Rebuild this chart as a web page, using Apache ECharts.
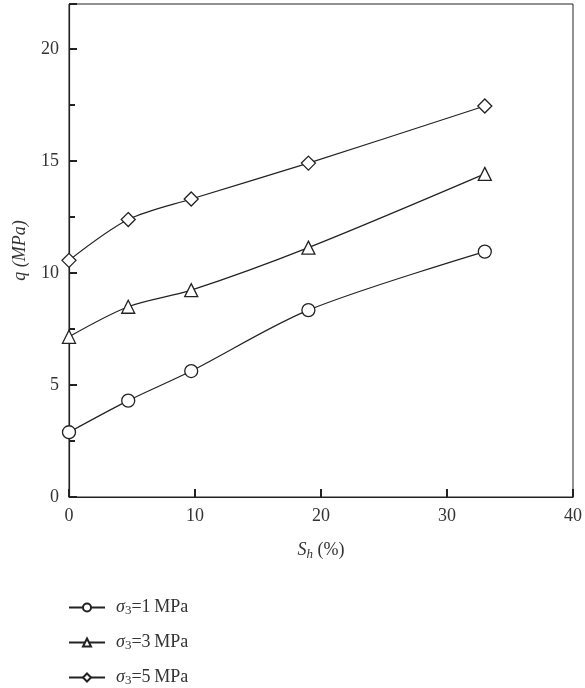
<!DOCTYPE html>
<html>
<head>
<meta charset="utf-8">
<script src="https://cdn.jsdelivr.net/npm/echarts@6/dist/echarts.min.js"></script>
<style>
html,body{margin:0;padding:0;background:#fff;}
#chart{width:585px;height:688px;}
</style>
</head>
<body>
<div id="chart"></div>
<script>
const shValues = [0, 4.7, 9.7, 19, 33];
const q_sigma1 = [2.89, 4.30, 5.62, 8.34, 10.95];
const q_sigma3 = [7.15, 8.49, 9.23, 11.13, 14.42];
const q_sigma5 = [10.56, 12.38, 13.30, 14.90, 17.45];
const seriesNames = ['σ3=1 MPa', 'σ3=3 MPa', 'σ3=5 MPa'];
const seriesLabels = [
  '{it|σ}{sub|3}{n|=1\u2009MPa}',
  '{it|σ}{sub|3}{n|=3\u2009MPa}',
  '{it|σ}{sub|3}{n|=5\u2009MPa}'
];
const xTicks = [0, 10, 20, 30, 40];
const yTicks = [0, 5, 10, 15, 20];

const FONT = '"Liberation Serif", "DejaVu Serif", serif';
const INK = '#222';

function pairs(ys) { return shValues.map((x, i) => [x, ys[i]]); }

const chart = echarts.init(document.getElementById('chart'), null, {renderer: 'canvas'});

const symbols = ['circle', 'triangle', 'diamond'];
const symbolSizes = [13, 13, 14];
const datas = [q_sigma1, q_sigma3, q_sigma5];

chart.setOption({
  animation: false,
  backgroundColor: '#fff',
  grid: {left: 69, right: 11, top: 4, bottom: 191, show: true, borderColor: INK, borderWidth: 1, backgroundColor: 'transparent'},
  xAxis: {
    type: 'value', min: 0, max: 40, interval: 10,
    axisLine: {show: true, lineStyle: {color: INK, width: 1.2}},
    axisTick: {show: true, inside: true, length: 8, lineStyle: {color: INK, width: 2}},
    splitLine: {show: false},
    axisLabel: {color: '#333', fontFamily: FONT, fontSize: 18, margin: 10,
      formatter: v => xTicks.indexOf(v) >= 0 ? String(v) : ''},
    name: '{it|S}{sub|h}{n| (%)}',
    nameLocation: 'middle', nameGap: 43,
    nameTextStyle: {
      rich: {
        it: {fontFamily: FONT, fontStyle: 'italic', fontSize: 18, color: '#333'},
        sub: {fontFamily: FONT, fontStyle: 'italic', fontSize: 13, color: '#333', verticalAlign: 'bottom', padding: [8, 0, 0, 0]},
        n: {fontFamily: FONT, fontSize: 18, color: '#333'}
      }
    }
  },
  yAxis: {
    type: 'value', min: 0, max: 22, interval: 5,
    axisLine: {show: true, lineStyle: {color: INK, width: 1.2}},
    axisTick: {show: true, inside: true, length: 8, lineStyle: {color: INK, width: 2}},
    minorTick: {show: true, splitNumber: 2, length: 6, lineStyle: {color: INK, width: 2}},
    splitLine: {show: false},
    minorSplitLine: {show: false},
    axisLabel: {color: '#333', fontFamily: FONT, fontSize: 18, margin: 10,
      formatter: v => yTicks.indexOf(v) >= 0 ? String(v) : ''},
    name: 'q (MPa)',
    nameLocation: 'middle', nameGap: 40, nameRotate: 90,
    nameTextStyle: {fontFamily: FONT, fontStyle: 'italic', fontSize: 18, color: '#333'}
  },
  legend: {
    orient: 'vertical', left: 63, top: 593, height: 120,
    itemWidth: 36, itemHeight: 10, itemGap: 16,
    data: seriesNames,
    formatter: name => seriesLabels[seriesNames.indexOf(name)],
    textStyle: {
      padding: [0, 0, 0, 6],
      rich: {
        it: {fontFamily: FONT, fontStyle: 'italic', fontSize: 18, color: '#333', lineHeight: 19},
        sub: {fontFamily: FONT, fontSize: 13, color: '#333', verticalAlign: 'bottom', lineHeight: 19, padding: [6, 0, 0, 0]},
        n: {fontFamily: FONT, fontSize: 18, color: '#333', lineHeight: 19}
      }
    }
  },
  series: datas.map((d, i) => ({
    name: seriesNames[i],
    type: 'line',
    data: pairs(d),
    smooth: 0.3,
    symbol: symbols[i],
    symbolSize: symbolSizes[i],
    showAllSymbol: true,
    lineStyle: {color: INK, width: 1.2},
    itemStyle: {color: '#fff', borderColor: INK, borderWidth: 1.3}
  }))
});
</script>
</body>
</html>
